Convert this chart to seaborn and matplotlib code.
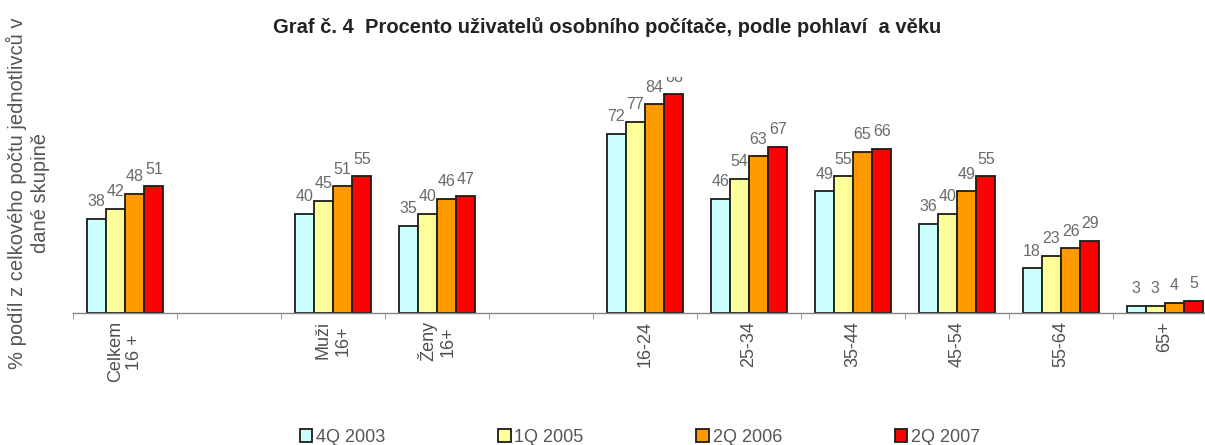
import pandas as pd
import seaborn as sns
import matplotlib.pyplot as plt
from matplotlib.patches import Patch

# categories (blank entries are the gaps between the groups)
groups = ["Celkem 16 +", " ", "Muži 16+", "Ženy 16+", "  ",
          "16-24", "25-34", "35-44", "45-54", "55-64", "65+"]
tick_labels = ["Celkem\n16 +", "", "Muži\n16+", "Ženy\n16+", "",
               "16-24", "25-34", "35-44", "45-54", "55-64", "65+"]
data_groups = ["Celkem 16 +", "Muži 16+", "Ženy 16+",
               "16-24", "25-34", "35-44", "45-54", "55-64", "65+"]
periods = ["4Q 2003", "1Q 2005", "2Q 2006", "2Q 2007"]

q4_2003 = [38, 40, 35, 72, 46, 49, 36, 18, 3]
q1_2005 = [42, 45, 40, 77, 54, 55, 40, 23, 3]
q2_2006 = [48, 51, 46, 84, 63, 65, 49, 26, 4]
q2_2007 = [51, 55, 47, 88, 67, 66, 55, 29, 5]

colors = ["#CCFFFF", "#FFFF99", "#FF9900", "#FF0000"]


def build_frame() -> pd.DataFrame:
    rows = []
    for period, values in zip(periods, [q4_2003, q1_2005, q2_2006, q2_2007]):
        for group, value in zip(data_groups, values):
            rows.append({"group": group, "period": period, "value": value})
    return pd.DataFrame(rows)


def main():
    df = build_frame()
    sns.set_style("white")
    plt.rcParams["font.family"] = ["Liberation Sans", "DejaVu Sans"]

    fig = plt.figure(figsize=(12.05, 4.45), dpi=100)
    ax = fig.add_axes([73 / 1205, 132 / 445, 1144 / 1205, 236 / 445])

    sns.barplot(df, x="group", y="value", hue="period", order=groups, hue_order=periods,
                palette=colors, saturation=1, width=0.74, edgecolor="#1c1c14", linewidth=1.3,
                legend=False, ax=ax)

    for container in ax.containers:
        ax.bar_label(container, padding=7, fontsize=11.5, color="#6a6a6a", clip_on=True)

    ax.set_ylim(0, 95)
    ax.set_xlim(-0.5, 10.5)
    ax.set_xticks(range(len(groups)), tick_labels, rotation=90, fontsize=13,
                  color="#505050", multialignment="center")
    ax.set_xticks([i - 0.5 for i in range(len(groups) + 1)], minor=True)
    ax.tick_params(axis="x", which="major", length=0, pad=6)
    ax.tick_params(axis="x", which="minor", length=4, color="#888888", direction="out", bottom=True)
    ax.set_yticks([])
    ax.set_xlabel("")
    ax.set_ylabel("")
    for side in ["left", "top", "right"]:
        ax.spines[side].set_visible(False)
    ax.spines["bottom"].set_color("#888888")
    ax.spines["bottom"].set_linewidth(1.0)

    fig.text(0.504, 1 - 27 / 445, "Graf č. 4  Procento uživatelů osobního počítače, podle pohlaví  a věku",
             ha="center", va="center", fontsize=14.5, fontweight="bold", color="#222222")
    fig.text(28 / 1205, 1 - 193 / 445, "% podíl z celkového počtu jednotlivců v\ndané skupině",
             rotation=90, ha="center", va="center", multialignment="center",
             fontsize=14.5, color="#555555", linespacing=1.3)

    handles = [Patch(facecolor=c, edgecolor="#1c1c14", linewidth=1.3) for c in colors]
    fig.legend(handles, periods, loc="center", bbox_to_anchor=(0.531, 8 / 445), ncol=4,
               frameon=False, fontsize=13, handlelength=0.7, handleheight=0.7,
               handletextpad=0.2, columnspacing=6.25, labelcolor="#555555")

    fig.savefig("out.png", dpi=100)


if __name__ == "__main__":
    main()
